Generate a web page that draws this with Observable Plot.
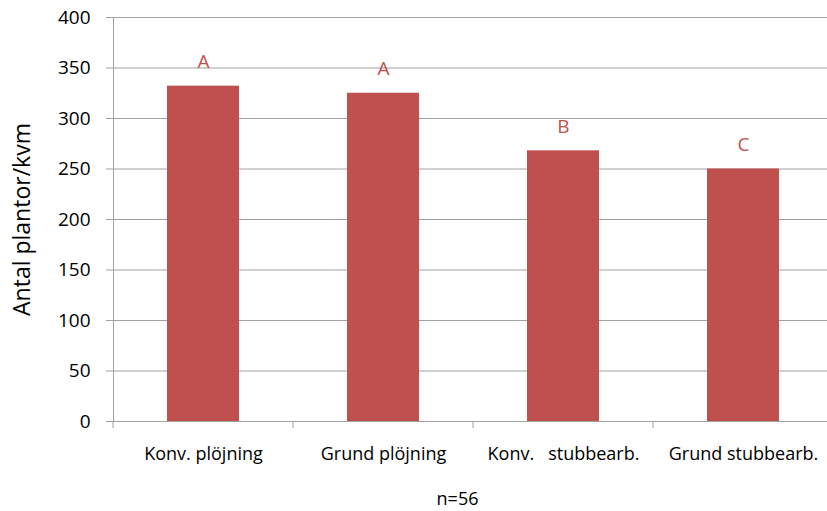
<!DOCTYPE html>
<html>
<head>
<meta charset="utf-8">
<script src="https://cdn.jsdelivr.net/npm/d3@7"></script>
<script src="https://cdn.jsdelivr.net/npm/@observablehq/plot@0.6"></script>
<style>
  body { margin: 0; background: #fff; }
</style>
</head>
<body>
<div id="chart"></div>
<script>
// Plant counts per tillage treatment, with significance groups
const categories = ["Konv. plöjning", "Grund plöjning", "Konv.\u00a0\u00a0\u00a0stubbearb.", "Grund stubbearb."];
const values = [332, 325, 268, 250];
const letters = ["A", "A", "B", "C"];
const yTicks = [0, 50, 100, 150, 200, 250, 300, 350, 400];
const yLabel = "Antal plantor/kvm";
const note = "n=56";

const data = categories.map((c, i) => ({ cat: c, value: values[i], letter: letters[i] }));

const barColor = "#c0504d";
const lineColor = "#a0a0a0";

const chart = Plot.plot({
  width: 827,
  height: 511,
  marginTop: 17,
  marginBottom: 90,
  marginLeft: 113,
  marginRight: -6,
  style: { fontFamily: "'Open Sans', sans-serif", background: "#fff", color: "#000" },
  x: { domain: categories, paddingInner: 0.6, paddingOuter: 0.3, label: null },
  y: { domain: [0, 400], ticks: yTicks, label: null },
  marks: [
    Plot.gridY(yTicks, { stroke: lineColor, strokeOpacity: 1 }),
    Plot.axisY(yTicks, { tickSize: 7, tickPadding: 16, fontSize: 19, stroke: lineColor, fill: "#000", label: null }),
    Plot.axisX({ tickSize: 0, tickPadding: 26, fontSize: 18, fill: "#000", label: null }),
    Plot.frame({ anchor: "left", stroke: lineColor }),
    Plot.ruleY([0], { stroke: lineColor }),
    Plot.barY(data, { x: "cat", y: "value", fill: barColor }),
    Plot.text(data, { x: "cat", y: "value", text: "letter", dy: -24, fill: barColor, fontSize: 19 }),
    Plot.text([yLabel], { frameAnchor: "left", textAnchor: "middle", lineAnchor: "middle", dx: -91, rotate: -90, fontSize: 23, fill: "#000" }),
    Plot.text([note], { frameAnchor: "bottom", textAnchor: "middle", lineAnchor: "middle", dy: 78, dx: -16, fontSize: 18, fill: "#000" })
  ]
});

// Small tick marks on the category axis, at the boundaries between groups
const xs = chart.scale("x");
const ys = chart.scale("y");
const gap = (xs.step - xs.bandwidth) / 2;
const bounds = categories.map(c => xs.apply(c) - gap);
bounds.push(xs.apply(categories[categories.length - 1]) + xs.bandwidth + gap);
const y0 = ys.apply(0);
d3.select(chart).append("g")
  .attr("stroke", lineColor)
  .selectAll("line")
  .data(bounds)
  .join("line")
  .attr("x1", d => d).attr("x2", d => d)
  .attr("y1", y0).attr("y2", y0 + 7);

document.getElementById("chart").appendChild(chart);
</script>
</body>
</html>
